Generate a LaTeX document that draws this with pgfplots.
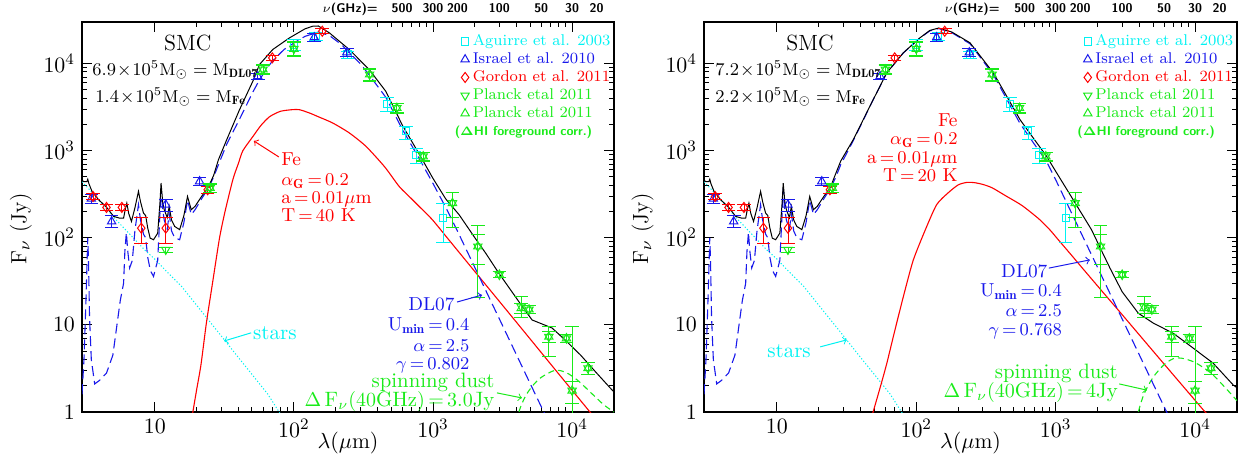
\documentclass[border=0pt]{standalone}
\usepackage{fontspec}
\usepackage{pgfplots}
\usepackage{pgfplotstable}
\pgfplotsset{compat=1.18}
\definecolor{ccyan}{rgb}{0,0.95,0.95}
\definecolor{cblue}{rgb}{0.1,0.1,0.92}
\definecolor{cred}{rgb}{1,0,0}
\definecolor{cgreen}{rgb}{0.1,0.92,0.1}
\newcommand\fT{\fontsize{10.5}{12}\selectfont}
\newcommand\fA{\fontsize{9.4}{11}\selectfont}
\newcommand\fS{\fontsize{10.4}{12}\selectfont}
\newcommand\fM{\fontsize{8.6}{10}\selectfont}
\newcommand\eq{\,{=}\,}
\tikzset{nuL/.style={anchor=base, inner sep=0pt, yshift=4.9pt, font=\sffamily\bfseries\fontsize{6.3}{7}\selectfont}}

\pgfplotstableread{
x y ep em
100 16500 2500 2500
144 20600 2000 2000
243 12700 1200 1200
468 3400 700 600
637 1667 250 330
760 900 170 180
1180 168 82 80
}\tabAg
\pgfplotstableread{
x y ep em
3.5 280 35 35
4.9 154 26 24
12 240 35 40
21 444 46 44
55 7140 600 600
140 20000 2000 2000
240 13400 1300 1300
}\tabIs
\pgfplotstableread{
x y ep em
3.6 298 25 25
4.5 223 15 15
5.8 223 15 15
8.0 129 41 42
12 129 41 42
24 356 30 30
70 11620 900 900
160 23500 1500 1500
}\tabGo
\pgfplotstableread{
x y ep em
12 73 5 5
25 373 45 45
60 8530 1200 1100
100 14750 3000 2700
350 7480 1300 1300
550 3090 400 400
850 860 100 100
1380 250 80 120
2100 79.5 60 59
3000 37.6 3 3
4300 16.2 4.8 4.2
4900 15 1.5 1.5
6800 7.3 2.3 3
9100 7.0 0.7 0.7
10000 1.76 7.7 1.26
13000 3.18 0.5 0.5
}\tabPl
\pgfplotstableread{
x y ep em
25 373 40 40
60 8530 900 900
100 14750 2500 2500
350 7480 1100 1100
550 3090 350 350
850 860 90 90
1380 250 80 80
2100 79.5 30 30
3000 37.6 3 3
4300 15.5 2 2
4900 15 1.5 1.5
6800 7.3 1 1
9100 7.0 0.7 0.7
10000 1.76 0.5 0.5
13000 3.18 0.5 0.5
}\tabPc

\begin{document}
\begin{tikzpicture}
\path[use as bounding box] (0,0) rectangle (622.5pt,-232pt);
\begin{axis}[anchor=south west, at={(41pt,-206pt)}, scale only axis, width=266pt, height=195pt,
    xmode=log, ymode=log, xmin=3, xmax=20000, ymin=1, ymax=30000, clip mode=individual,
    xtick={10,100,1000,10000}, xticklabels={$10$,$10^2$,$10^3$,$10^4$},
    ytick={1,10,100,1000,10000}, yticklabels={$1$,$10$,$10^2$,$10^3$,$10^4$},
    tick align=inside, major tick length=5pt, minor tick length=2.5pt,
    axis line style={line width=0.7pt}, tick style={black, line width=0.5pt},
    tick label style={font=\fontsize{11}{12}\selectfont},
    xlabel={$\lambda(\mu{\rm m})$}, ylabel={F$_\nu$ (Jy)},
    label style={font=\fontsize{11}{12}\selectfont},
    xlabel style={at={(axis description cs:0.5,-0.08)}, anchor=center},
    ylabel style={at={(axis description cs:-0.115,0.47)}, anchor=center},
    legend cell align=left,
    legend style={at={(0.676,0.984)}, anchor=north west, draw=none, fill=none,
      font=\fontsize{7.8}{9}\selectfont, row sep=0.2pt,
      nodes={inner sep=0.25pt, text height=6.3pt, text depth=2pt}}]
  \addplot[ccyan, line width=0.5pt, dash pattern=on 0.6pt off 1pt, forget plot] coordinates {(3.0,440)(3.5,340)(4.2,245)(5.1,170)(7,100)(8.5,72)(10,57)(12,42)(15.6,27.6)(20,16.8)(30,7.5)(40,4.2)(50,2.7)(65,1.6)(80,0.95)(90,0.75)};
  \addplot[cred, line width=0.55pt, smooth, tension=0.4, forget plot] coordinates {(18,0.64)(18.8,1.0)(20,1.8)(21.5,3.5)(23.5,10.5)(26,30)(29.2,99)(32,200)(36.5,470)(40,720)(43,1000)(50.7,1450)(58,1950)(66.8,2450)(80,2830)(98,2960)(110,2950)(130,2700)(150,2450)(190,2080)(250,1600)(330,1120)(450,650)(571,389)(700,281)(800,227)(990,161)(1300,94.7)(2000,40.9)(3000,18.6)(5000,6.87)(8000,2.74)(13100,1.05)(14000,0.92)};
  \addplot[cgreen, line width=0.55pt, dash pattern=on 3pt off 2pt, smooth, tension=0.5, forget plot] coordinates {(3900,0.6)(4140,1.0)(4600,1.5)(5200,2.0)(6000,2.5)(7500,3.0)(9000,2.85)(11000,2.3)(14000,1.6)(17000,1.2)(20000,1.0)};
  \addplot[cblue, line width=0.55pt, dash pattern=on 5pt off 2.5pt, forget plot] coordinates {(3.0,1.6)(3.1,4)(3.2,18)(3.27,60)(3.3,100)(3.34,55)(3.4,12)(3.5,4)(3.7,2.1)(4.0,2.3)(4.5,2.8)(5.0,4.5)(5.35,10)(5.65,19)(5.97,30)(6.1,70)(6.25,115)(6.4,70)(6.6,45)(6.9,55)(7.2,120)(7.64,240)(7.9,160)(8.3,110)(8.6,100)(8.9,60)(9.3,42)(9.8,36)(10.5,55)(10.9,190)(11.1,370)(11.4,210)(11.7,160)(12.3,125)(12.7,190)(13.2,120)(13.9,100)(15.1,95)(16.2,150)(17.2,270)(18.3,185)(19.5,210)(21.7,280)(24.4,375)(26.5,500)(28.7,690)(33,1200)(40.7,2300)(50.7,4700)(56.6,6500)(63,8500)(70.5,10800)(85,14500)(100,17200)(120,20500)(150,23000)(180,21000)(220,16500)(250,13300)(300,10000)(350,7300)(458,4100)(603,1750)(800,800)(1000,420)(1250,215)(1500,119)(2000,45.5)(2500,21.5)(3000,11.7)(4000,4.46)(5000,2.11)(6000,1.15)(6500,0.88)};
  \addplot[black, line width=0.5pt, forget plot] coordinates {(3.0,456)(3.1,440)(3.25,440)(3.3,470)(3.36,420)(3.54,341)(3.95,273)(4.5,225)(5.06,176)(5.6,168)(5.97,168)(6.15,215)(6.3,250)(6.5,190)(6.8,154)(7.2,220)(7.64,341)(7.9,260)(8.3,192)(8.6,180)(8.9,130)(9.27,99)(9.8,95)(10.5,113)(10.9,250)(11.1,425)(11.4,260)(11.7,210)(12.3,170)(12.7,229)(13.2,160)(13.9,135)(15.1,124)(16.2,180)(17.2,298)(18.3,210)(19.5,230)(21.7,298)(24.4,389)(26.5,520)(28.7,788)(33,1350)(40.7,2960)(50.7,6260)(56.6,9740)(70.5,14500)(92.9,19700)(120,25000)(136,26800)(150,27000)(180,22500)(250,14500)(348,8530)(458,4800)(603,1950)(800,900)(1000,480)(1233,280)(1540,184)(2000,100)(2390,66.7)(2970,39.3)(4140,18.5)(5150,11.4)(7180,9.2)(9000,6.6)(11500,4.5)(15000,2.8)(19300,1.8)(20000,1.7)};
  \addplot[ccyan, only marks, mark=square, mark size=1.8pt, mark options={solid, line width=0.5pt}, error bars/y dir=both, error bars/y explicit, error bars/error mark options={rotate=90, mark size=3.4pt, line width=0.5pt}] table[x=x,y=y,y error plus=ep,y error minus=em]{\tabAg};
  \addlegendentry{\hspace*{1.5pt}\textcolor{ccyan}{Aguirre et al. 2003}}
  \addplot[cblue, only marks, mark=triangle, mark size=2.4pt, mark options={solid, line width=0.5pt}, error bars/y dir=both, error bars/y explicit, error bars/error mark options={rotate=90, mark size=3.4pt, line width=0.5pt}] table[x=x,y=y,y error plus=ep,y error minus=em]{\tabIs};
  \addlegendentry{\hspace*{1.5pt}\textcolor{cblue}{Israel et al. 2010}}
  \addplot[cred, only marks, mark=diamond, mark size=2.5pt, mark options={solid, line width=0.5pt}, error bars/y dir=both, error bars/y explicit, error bars/error mark options={rotate=90, mark size=3.4pt, line width=0.5pt}] table[x=x,y=y,y error plus=ep,y error minus=em]{\tabGo};
  \addlegendentry{\hspace*{1.5pt}\textcolor{cred}{Gordon et al. 2011}}
  \addplot[cgreen, only marks, mark=triangle, mark size=2.4pt, mark options={solid, line width=0.5pt, rotate=180}, error bars/y dir=both, error bars/y explicit, error bars/error mark options={rotate=90, mark size=3.4pt, line width=0.5pt}] table[x=x,y=y,y error plus=ep,y error minus=em]{\tabPl};
  \addlegendentry{\hspace*{1.5pt}\textcolor{cgreen}{Planck etal 2011}}
  \addplot[cgreen, only marks, mark=triangle, mark size=2.4pt, mark options={solid, line width=0.5pt}, error bars/y dir=both, error bars/y explicit, error bars/error mark options={rotate=90, mark size=3.4pt, line width=0.5pt}] table[x=x,y=y,y error plus=ep,y error minus=em]{\tabPc};
  \addlegendentry{\hspace*{1.5pt}\textcolor{cgreen}{Planck etal 2011}}
  \addlegendimage{empty legend}
  \addlegendentry{\hspace*{-7.5pt}\textcolor{cgreen}{\sffamily\bfseries\fontsize{6.4}{7}\selectfont (\boldmath$\Delta$HI foreground corr.)}}
  \node[font=\fontsize{11}{12}\selectfont] at (rel axis cs:0.199,0.946) {SMC};
  \node[font=\fM, anchor=west, inner sep=0pt] at (rel axis cs:0.0188,0.877) {$6.9\!\times\!10^5{\rm M}_\odot={\rm M}_{\bf DL07}$};
  \node[font=\fM, anchor=west, inner sep=0pt] at (rel axis cs:0.0244,0.808) {$1.4\!\times\!10^5{\rm M}_\odot={\rm M}_{\bf Fe}$};
  \node[font=\fA, text=cred, anchor=base west, inner sep=0pt] at (rel axis cs:0.374,0.631) {Fe};
  \node[font=\fA, text=cred, anchor=base west, inner sep=0pt] at (rel axis cs:0.374,0.580) {$\alpha_{\bf G}\eq0.2$};
  \node[font=\fA, text=cred, anchor=base west, inner sep=0pt] at (rel axis cs:0.374,0.534) {${\rm a}\eq0.01\mu{\rm m}$};
  \node[font=\fA, text=cred, anchor=base west, inner sep=0pt] at (rel axis cs:0.374,0.488) {${\rm T}\eq40\ {\rm K}$};
  \draw[cred, line width=0.5pt, ->] (rel axis cs:0.370,0.654) -- (rel axis cs:0.323,0.695);
  \node[font=\fT, text=ccyan, anchor=base west, inner sep=0pt] at (rel axis cs:0.321,0.185) {stars};
  \draw[ccyan, line width=0.5pt, ->] (rel axis cs:0.318,0.203) -- (rel axis cs:0.267,0.182);
  \node[font=\fA, text=cblue, anchor=base east, inner sep=0pt] at (rel axis cs:0.701,0.2615) {DL07};
  \node[font=\fA, text=cblue, anchor=base east, inner sep=0pt] at (rel axis cs:0.729,0.208) {${\rm U}_{\bf min}\eq0.4$};
  \node[font=\fA, text=cblue, anchor=base east, inner sep=0pt] at (rel axis cs:0.729,0.156) {$\alpha\eq2.5$};
  \node[font=\fA, text=cblue, anchor=base east, inner sep=0pt] at (rel axis cs:0.729,0.110) {$\gamma\eq0.802$};
  \draw[cblue, line width=0.5pt, ->] (rel axis cs:0.705,0.282) -- (rel axis cs:0.752,0.300);
  \node[font=\fS, text=cgreen, anchor=base east, inner sep=0pt] at (rel axis cs:0.776,0.064) {spinning dust};
  \node[font=\fS, text=cgreen, anchor=base east, inner sep=0pt] at (rel axis cs:0.776,0.013) {$\Delta\,{\rm F}_\nu(40{\rm GHz})\eq3.0{\rm Jy}$};
  \draw[cgreen, line width=0.5pt, ->] (rel axis cs:0.780,0.049) -- (rel axis cs:0.827,0.036);
  \node[nuL] at (axis cs:599.6,30000) {500};
  \node[nuL] at (axis cs:999.3,30000) {300};
  \node[nuL] at (axis cs:1499,30000) {200};
  \node[nuL] at (axis cs:2998,30000) {100};
  \node[nuL] at (axis cs:5996,30000) {50};
  \node[nuL] at (axis cs:9993,30000) {30};
  \node[nuL] at (axis cs:14990,30000) {20};
  \node[nuL] at (rel axis cs:0.504,1) {$\nu$(GHz)=};
\end{axis}
\begin{axis}[anchor=south west, at={(352pt,-206pt)}, scale only axis, width=266.5pt, height=195pt,
    xmode=log, ymode=log, xmin=3, xmax=20000, ymin=1, ymax=30000, clip mode=individual,
    xtick={10,100,1000,10000}, xticklabels={$10$,$10^2$,$10^3$,$10^4$},
    ytick={1,10,100,1000,10000}, yticklabels={$1$,$10$,$10^2$,$10^3$,$10^4$},
    tick align=inside, major tick length=5pt, minor tick length=2.5pt,
    axis line style={line width=0.7pt}, tick style={black, line width=0.5pt},
    tick label style={font=\fontsize{11}{12}\selectfont},
    xlabel={$\lambda(\mu{\rm m})$}, ylabel={F$_\nu$ (Jy)},
    label style={font=\fontsize{11}{12}\selectfont},
    xlabel style={at={(axis description cs:0.5,-0.08)}, anchor=center},
    ylabel style={at={(axis description cs:-0.115,0.47)}, anchor=center},
    legend cell align=left,
    legend style={at={(0.676,0.984)}, anchor=north west, draw=none, fill=none,
      font=\fontsize{7.8}{9}\selectfont, row sep=0.2pt,
      nodes={inner sep=0.25pt, text height=6.3pt, text depth=2pt}}]
  \addplot[ccyan, line width=0.5pt, dash pattern=on 0.6pt off 1pt, forget plot] coordinates {(3.0,440)(3.5,340)(4.2,245)(5.1,170)(7,100)(8.5,72)(10,57)(12,42)(15.6,27.6)(20,16.8)(30,7.5)(40,4.2)(50,2.7)(65,1.6)(80,0.95)(90,0.75)};
  \addplot[cred, line width=0.55pt, smooth, tension=0.4, forget plot] coordinates {(46,0.7)(49,1.0)(55,1.9)(61.4,3.6)(70,8.5)(80.7,21)(95,55)(116,123)(140,240)(170,330)(200,405)(230,432)(260,430)(300,410)(350,375)(437,304)(575,234)(760,164)(910,123)(1035,96.5)(1313,61.8)(1610,42)(2277,21.9)(3000,13.1)(4600,5.85)(6900,2.73)(11500,1.05)(12500,0.91)};
  \addplot[cgreen, line width=0.55pt, dash pattern=on 3pt off 2pt, smooth, tension=0.5, forget plot] coordinates {(3700,0.6)(3920,1.0)(4300,1.6)(5000,2.5)(6000,3.5)(7000,4.1)(8000,4.15)(10000,3.7)(13000,2.8)(16000,2.0)(20000,1.35)};
  \addplot[cblue, line width=0.55pt, dash pattern=on 5pt off 2.5pt, forget plot] coordinates {(3.0,1.6)(3.1,4)(3.2,18)(3.27,60)(3.3,100)(3.34,55)(3.4,12)(3.5,4)(3.7,2.1)(4.0,2.3)(4.5,2.8)(5.0,4.5)(5.35,10)(5.65,19)(5.97,30)(6.1,70)(6.25,115)(6.4,70)(6.6,45)(6.9,55)(7.2,120)(7.64,240)(7.9,160)(8.3,110)(8.6,100)(8.9,60)(9.3,42)(9.8,36)(10.5,55)(10.9,190)(11.1,370)(11.4,210)(11.7,160)(12.3,125)(12.7,190)(13.2,120)(13.9,100)(15.1,95)(16.2,150)(17.2,270)(18.3,185)(19.5,210)(21.7,280)(24.4,375)(26.5,500)(28.7,690)(35.3,1300)(49.1,3850)(61.4,7800)(80.7,13250)(106,19600)(125,23700)(145,25200)(180,22600)(243,16870)(300,10800)(357,7450)(450,3790)(555,2050)(700,1200)(861,750)(1000,464)(1250,220)(1500,119)(2000,45.5)(2500,21.5)(3000,11.7)(4000,4.46)(5000,2.11)(6000,1.15)(6500,0.88)};
  \addplot[black, line width=0.5pt, forget plot] coordinates {(3.0,456)(3.1,440)(3.25,440)(3.3,470)(3.36,420)(3.54,341)(3.95,273)(4.5,225)(5.06,176)(5.6,168)(5.97,168)(6.15,215)(6.3,250)(6.5,190)(6.8,154)(7.2,220)(7.64,341)(7.9,260)(8.3,192)(8.6,180)(8.9,130)(9.27,99)(9.8,95)(10.5,113)(10.9,250)(11.1,425)(11.4,260)(11.7,210)(12.3,170)(12.7,229)(13.2,160)(13.9,135)(15.1,124)(16.2,180)(17.2,298)(18.3,210)(19.5,230)(21.7,298)(24.4,389)(25.4,464)(28.7,760)(35.3,1337)(49.1,3855)(61.4,7820)(80.7,13270)(106,19700)(125,24000)(145,25600)(180,23000)(243,17300)(300,11200)(357,7820)(450,4090)(555,2270)(700,1357)(861,860)(1000,580)(1336,273)(1812,123)(2100,75)(2450,45)(3000,24)(3920,13.6)(5010,10.5)(6980,8.0)(8710,6.16)(13500,3.63)(18800,2.04)(20000,1.9)};
  \addplot[ccyan, only marks, mark=square, mark size=1.8pt, mark options={solid, line width=0.5pt}, error bars/y dir=both, error bars/y explicit, error bars/error mark options={rotate=90, mark size=3.4pt, line width=0.5pt}] table[x=x,y=y,y error plus=ep,y error minus=em]{\tabAg};
  \addlegendentry{\hspace*{1.5pt}\textcolor{ccyan}{Aguirre et al. 2003}}
  \addplot[cblue, only marks, mark=triangle, mark size=2.4pt, mark options={solid, line width=0.5pt}, error bars/y dir=both, error bars/y explicit, error bars/error mark options={rotate=90, mark size=3.4pt, line width=0.5pt}] table[x=x,y=y,y error plus=ep,y error minus=em]{\tabIs};
  \addlegendentry{\hspace*{1.5pt}\textcolor{cblue}{Israel et al. 2010}}
  \addplot[cred, only marks, mark=diamond, mark size=2.5pt, mark options={solid, line width=0.5pt}, error bars/y dir=both, error bars/y explicit, error bars/error mark options={rotate=90, mark size=3.4pt, line width=0.5pt}] table[x=x,y=y,y error plus=ep,y error minus=em]{\tabGo};
  \addlegendentry{\hspace*{1.5pt}\textcolor{cred}{Gordon et al. 2011}}
  \addplot[cgreen, only marks, mark=triangle, mark size=2.4pt, mark options={solid, line width=0.5pt, rotate=180}, error bars/y dir=both, error bars/y explicit, error bars/error mark options={rotate=90, mark size=3.4pt, line width=0.5pt}] table[x=x,y=y,y error plus=ep,y error minus=em]{\tabPl};
  \addlegendentry{\hspace*{1.5pt}\textcolor{cgreen}{Planck etal 2011}}
  \addplot[cgreen, only marks, mark=triangle, mark size=2.4pt, mark options={solid, line width=0.5pt}, error bars/y dir=both, error bars/y explicit, error bars/error mark options={rotate=90, mark size=3.4pt, line width=0.5pt}] table[x=x,y=y,y error plus=ep,y error minus=em]{\tabPc};
  \addlegendentry{\hspace*{1.5pt}\textcolor{cgreen}{Planck etal 2011}}
  \addlegendimage{empty legend}
  \addlegendentry{\hspace*{-7.5pt}\textcolor{cgreen}{\sffamily\bfseries\fontsize{6.4}{7}\selectfont (\boldmath$\Delta$HI foreground corr.)}}
  \node[font=\fontsize{11}{12}\selectfont] at (rel axis cs:0.199,0.946) {SMC};
  \node[font=\fM, anchor=west, inner sep=0pt] at (rel axis cs:0.0206,0.877) {$7.2\!\times\!10^5{\rm M}_\odot={\rm M}_{\bf DL07}$};
  \node[font=\fM, anchor=west, inner sep=0pt] at (rel axis cs:0.0206,0.808) {$2.2\!\times\!10^5{\rm M}_\odot={\rm M}_{\bf Fe}$};
  \node[font=\fA, text=cred, anchor=base east, inner sep=0pt] at (rel axis cs:0.4765,0.731) {Fe};
  \node[font=\fA, text=cred, anchor=base east, inner sep=0pt] at (rel axis cs:0.4765,0.686) {$\alpha_{\bf G}\eq0.2$};
  \node[font=\fA, text=cred, anchor=base east, inner sep=0pt] at (rel axis cs:0.4765,0.638) {${\rm a}\eq0.01\mu{\rm m}$};
  \node[font=\fA, text=cred, anchor=base east, inner sep=0pt] at (rel axis cs:0.4765,0.590) {${\rm T}\eq20\ {\rm K}$};
  \node[font=\fT, text=ccyan, anchor=base west, inner sep=0pt] at (rel axis cs:0.118,0.141) {stars};
  \draw[ccyan, line width=0.5pt, ->] (rel axis cs:0.218,0.167) -- (rel axis cs:0.268,0.185);
  \node[font=\fA, text=cblue, anchor=base east, inner sep=0pt] at (rel axis cs:0.645,0.346) {DL07};
  \node[font=\fA, text=cblue, anchor=base east, inner sep=0pt] at (rel axis cs:0.672,0.295) {${\rm U}_{\bf min}\eq0.4$};
  \node[font=\fA, text=cblue, anchor=base east, inner sep=0pt] at (rel axis cs:0.672,0.244) {$\alpha\eq2.5$};
  \node[font=\fA, text=cblue, anchor=base east, inner sep=0pt] at (rel axis cs:0.672,0.197) {$\gamma\eq0.768$};
  \draw[cblue, line width=0.5pt, ->] (rel axis cs:0.647,0.369) -- (rel axis cs:0.724,0.390);
  \node[font=\fS, text=cgreen, anchor=base east, inner sep=0pt] at (rel axis cs:0.777,0.087) {spinning dust};
  \node[font=\fS, text=cgreen, anchor=base east, inner sep=0pt] at (rel axis cs:0.777,0.038) {$\Delta\,{\rm F}_\nu(40{\rm GHz})\eq4{\rm Jy}$};
  \draw[cgreen, line width=0.5pt, ->] (rel axis cs:0.779,0.072) -- (rel axis cs:0.831,0.056);
  \node[nuL] at (axis cs:599.6,30000) {500};
  \node[nuL] at (axis cs:999.3,30000) {300};
  \node[nuL] at (axis cs:1499,30000) {200};
  \node[nuL] at (axis cs:2998,30000) {100};
  \node[nuL] at (axis cs:5996,30000) {50};
  \node[nuL] at (axis cs:9993,30000) {30};
  \node[nuL] at (axis cs:14990,30000) {20};
  \node[nuL] at (rel axis cs:0.503,1) {$\nu$(GHz)=};
\end{axis}
\end{tikzpicture}
\end{document}
